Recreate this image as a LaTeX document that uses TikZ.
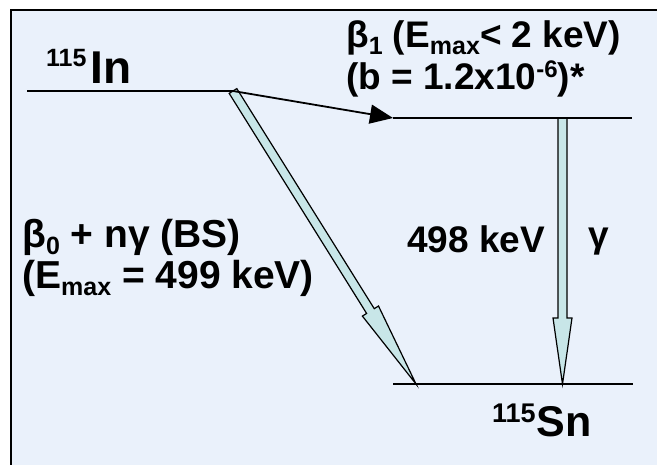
\documentclass[tikz,border=0pt]{standalone}
\usepackage{fontspec}
\setmainfont{Liberation Sans}
\usetikzlibrary{arrows.meta,calc}
\definecolor{bgblue}{RGB}{234,241,251}
\definecolor{arrfill}{RGB}{200,230,232}
\newcommand{\mysub}[1]{\raisebox{-7pt}{\fontsize{25}{25}\selectfont #1}}
\newcommand{\mysup}[1]{\raisebox{12pt}{\fontsize{24}{24}\selectfont #1}}
\begin{document}
\begin{tikzpicture}[x=1pt,y=-1pt,
  lbl/.style={font=\fontsize{37}{42}\selectfont\bfseries, inner sep=0pt, anchor=base west},
  biglbl/.style={font=\fontsize{39}{42}\selectfont\bfseries, inner sep=0pt, anchor=base west},
  level/.style={line width=1.6pt},
  bigarrow/.style={fill=arrfill, draw=black, line width=1.2pt, line join=miter}]
\useasboundingbox (0,0) rectangle (657,465);
\fill[white] (0,0) rectangle (657,465);
\draw[fill=bgblue, line width=2pt] (11,10) rectangle (690,500);
% coordinates
\coordinate (inL) at (27,91);
\coordinate (A) at (233,91);
\coordinate (C) at (393,118);
\coordinate (cR) at (632,118);
\coordinate (snL) at (393,384);
\coordinate (snR) at (633,384);
\coordinate (B) at (416,384);
\coordinate (G0) at (562.5,118);
\coordinate (G1) at (562.5,384);
\coordinate (GH) at ($(G1)+(0,-66)$);
\coordinate (DH) at ($(B)!86pt!(A)$);
% gamma arrow
\draw[bigarrow] ($(G0)+(-4.5,0)$) -- ($(GH)+(-4.5,0)$) -- ($(GH)+(-9.5,0)$) -- (G1)
  -- ($(GH)+(9.5,0)$) -- ($(GH)+(4.5,0)$) -- ($(G0)+(4.5,0)$) -- cycle;
% beta0 arrow
\draw[bigarrow] ($(A)!4.5pt!90:(B)$) -- ($(DH)!4.5pt!-90:(A)$) -- ($(DH)!9.5pt!-90:(A)$) -- (B)
  -- ($(DH)!9.5pt!90:(A)$) -- ($(DH)!4.5pt!90:(A)$) -- ($(A)!4.5pt!-90:(B)$) -- cycle;
% levels
\draw[level] (inL) -- (A);
\draw[level] (C) -- (cR);
\draw[level] (snL) -- (snR);
% beta1 arrow
\draw[line width=1.8pt, -{Triangle[length=23pt,width=19pt]}] (A) -- (C);
% labels
\node[inner sep=0pt, anchor=base west, font=\bfseries] (in) at (46,84)
  {\fontsize{25}{25}\selectfont\raisebox{17pt}{115}\hspace{4pt}\fontsize{46}{46}\selectfont In};
\node[lbl] (b1a) at (346,48) {β\mysub{1} (E\mysub{max}< 2 keV)};
\node[lbl] (b1b) at (346,90) {(b = 1.2x10\mysup{-6})*};
\node[biglbl] (b0a) at (22,248) {β\mysub{0} + nγ (BS)};
\node[biglbl] (b0b) at (22,289) {(E\mysub{max} = 499 keV)};
\node[lbl] (e498) at (407,253) {498 keV};
\node[lbl] (gam) at (588,248) {γ};
\node[inner sep=0pt, anchor=base west, font=\bfseries] (sn) at (492,437)
  {\fontsize{27}{27}\selectfont\raisebox{14pt}{115}\hspace{1pt}\fontsize{43}{43}\selectfont Sn};
\end{tikzpicture}
\end{document}
